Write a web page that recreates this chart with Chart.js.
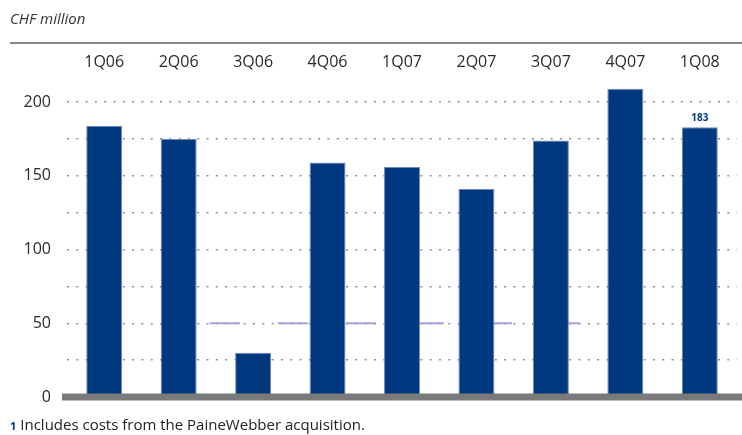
<!DOCTYPE html>
<html>
<head>
<meta charset="utf-8">
<script src="https://cdn.jsdelivr.net/npm/chart.js@4"></script>
<style>
    html, body { margin: 0; padding: 0; background: #fff; }
    #wrap { position: relative; width: 742px; height: 435px; }
    #unit { position: absolute; left: 10px; top: 8px; font: italic 15px "Open Sans", sans-serif; color: #333; }
    #note { position: absolute; left: 10px; top: 414px; font: 15px "Open Sans", sans-serif; color: #222; white-space: nowrap; }
    #note b { color: #00387f; font-size: 11px; margin-right: 4px; }
</style>
</head>
<body>
<div id="wrap">
    <canvas id="dataChart" width="742" height="435"></canvas>
    <div id="unit">CHF million</div>
    <div id="note"><b>1</b>Includes costs from the PaineWebber acquisition.</div>
</div>
<script>
// Quarterly values, CHF million
const quarters = ['1Q06', '2Q06', '3Q06', '4Q06', '1Q07', '2Q07', '3Q07', '4Q07', '1Q08'];
const values = [184, 175, 30, 159, 156, 141, 174, 209, 183];
// lavender dashed reference at 50, positions in category-index units
const refLine = [{ x: 1.42, y: 50 }, { x: 6.39, y: 50 }];
const labelled = ['1Q08'];   // bars that carry a value label
const yTicks = [0, 50, 100, 150, 200];

const navy = '#00387f';

// gray rule under the unit label + thick gray base line at 0 + value label
const decorPlugin = {
    id: 'decor',
    afterDraw(chart) {
        const ctx = chart.ctx;
        const area = chart.chartArea;
        const y0 = chart.scales.y.getPixelForValue(0);
        ctx.save();
        ctx.strokeStyle = '#8a8a8a';
        ctx.lineWidth = 2;
        ctx.beginPath();
        ctx.moveTo(10, 43);
        ctx.lineTo(chart.width, 43);
        ctx.stroke();

        ctx.strokeStyle = '#7a7a7a';
        ctx.lineWidth = 7;
        ctx.beginPath();
        ctx.moveTo(area.left - 5, y0);
        ctx.lineTo(chart.width, y0);
        ctx.stroke();

        const meta = chart.getDatasetMeta(1);
        ctx.fillStyle = navy;
        ctx.font = 'bold 10px "Open Sans", sans-serif';
        ctx.textAlign = 'center';
        ctx.textBaseline = 'bottom';
        quarters.forEach((q, i) => {
            if (labelled.includes(q)) {
                const bar = meta.data[i];
                ctx.fillText(String(values[i]), bar.x, bar.y - 4);
            }
        });
        ctx.restore();
    }
};

const ctx = document.getElementById('dataChart').getContext('2d');
new Chart(ctx, {
    data: {
        labels: quarters,
        datasets: [{
            type: 'line',
            data: refLine,
            xAxisID: 'x2',
            borderColor: '#a4a4dc',
            borderWidth: 2,
            borderDash: [30, 38],
            pointRadius: 0,
            fill: false,
            order: 2
        }, {
            type: 'bar',
            data: values,
            xAxisID: 'x',
            grouped: false,
            backgroundColor: navy,
            borderColor: '#6f86b8',
            borderWidth: 1,
            categoryPercentage: 1,
            barPercentage: 0.483,
            order: 1
        }]
    },
    options: {
        responsive: false,
        animation: false,
        layout: { padding: { top: 44, right: 5, bottom: 38, left: 0 } },
        plugins: {
            legend: { display: false },
            tooltip: { enabled: false }
        },
        scales: {
            x: {
                type: 'category',
                position: 'top',
                grid: { display: false },
                border: { display: false },
                ticks: { color: '#2a2a2a', font: { family: 'Open Sans', size: 16 }, padding: 0 },
                afterFit(scale) { scale.height = 36; }
            },
            x2: {
                type: 'linear',
                display: false,
                min: -0.5,
                max: quarters.length - 0.5
            },
            y: {
                min: 0,
                max: 215,
                border: { display: false, dash: [2, 7.3] },
                afterFit(scale) { scale.width = 67; },
                afterBuildTicks(scale) {
                    scale.ticks = [];
                    for (let v = 0; v <= 200; v += 25) scale.ticks.push({ value: v });
                },
                grid: {
                    drawTicks: false,
                    color: (c) => c.tick && c.tick.value === 0 ? 'rgba(0,0,0,0)' : '#8f8f8f',
                    lineWidth: 1.5
                },
                ticks: {
                    color: '#2a2a2a',
                    font: { family: 'Open Sans', size: 16 },
                    padding: 16,
                    callback: (v) => yTicks.includes(v) ? v : ''
                }
            }
        }
    },
    plugins: [decorPlugin]
});
</script>
</body>
</html>
